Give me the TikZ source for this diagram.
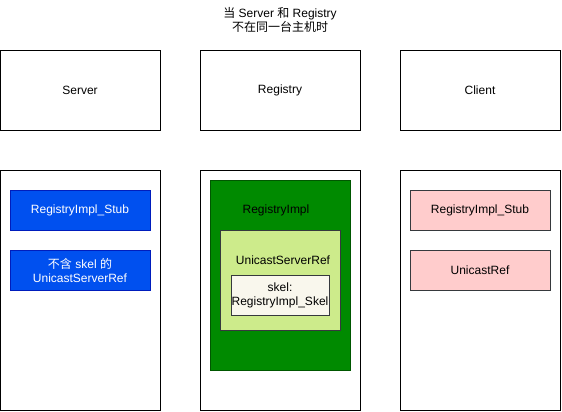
\documentclass[tikz,border=0pt]{standalone}
\usepackage{fontspec}
\setmainfont{Liberation Sans}
\newfontfamily\cjk{Noto Sans CJK SC}
\definecolor{blueF}{HTML}{0050EF}
\definecolor{blueD}{HTML}{001DBC}
\definecolor{greenF}{HTML}{008A00}
\definecolor{greenD}{HTML}{005700}
\definecolor{lgreen}{HTML}{CDEB8B}
\definecolor{grayD}{HTML}{36393D}
\definecolor{cream}{HTML}{F9F7ED}
\definecolor{pinkF}{HTML}{FFCCCC}
\begin{document}
\begin{tikzpicture}[x=1pt,y=-1pt,
  every node/.style={font=\fontsize{12}{14}\selectfont, inner sep=0pt, align=center},
  plain/.style={draw=black, fill=white, line width=0.9pt},
  bluebox/.style={draw=blueD, fill=blueF, text=white, line width=0.9pt},
  pinkbox/.style={draw=grayD, fill=pinkF, line width=0.9pt},
  greenbox/.style={draw=greenD, fill=greenF, line width=0.9pt},
  lgbox/.style={draw=grayD, fill=lgreen, line width=0.9pt},
  creambox/.style={draw=grayD, fill=cream, line width=0.9pt}]
\useasboundingbox (0,0) rectangle (562,412);
% title
\node (title) at (280,20) {{\cjk 当} Server {\cjk 和} Registry\\{\cjk 不在同一台主机时}};
% top row
\draw[plain] (0.5,50) rectangle (160,130);
\node (server) at (80,90) {Server};
\draw[plain] (200,50) rectangle (360,130);
\node (registry) at (280,90) {Registry};
\draw[plain] (400,50) rectangle (560,130);
\node (client) at (480,90) {Client};
% bottom containers
\draw[plain] (0.5,170) rectangle (160,410);
\draw[plain] (200,170) rectangle (360,410);
\draw[plain] (400,170) rectangle (560,410);
% server side
\draw[bluebox] (10,190) rectangle (150,230);
\node[text=white] (sstub) at (80,210) {RegistryImpl\_Stub};
\draw[bluebox] (10,250) rectangle (150,290);
\node[text=white] (sref) at (80,270) {{\cjk 不含} skel {\cjk 的}\\UnicastServerRef};
% registry side
\draw[greenbox] (210,180) rectangle (350,370);
\node (rimpl) at (276,210) {RegistryImpl};
\draw[lgbox] (220,230) rectangle (340,330);
\node (usr) at (283,260) {UnicastServerRef};
\draw[creambox] (231,275) rectangle (329,315);
\node (skel) at (280,295) {skel:\\RegistryImpl\_Skel};
% client side
\draw[pinkbox] (410,190) rectangle (550,230);
\node (cstub) at (480,210) {RegistryImpl\_Stub};
\draw[pinkbox] (410,250) rectangle (550,290);
\node (cref) at (480,270) {UnicastRef};
\end{tikzpicture}
\end{document}
